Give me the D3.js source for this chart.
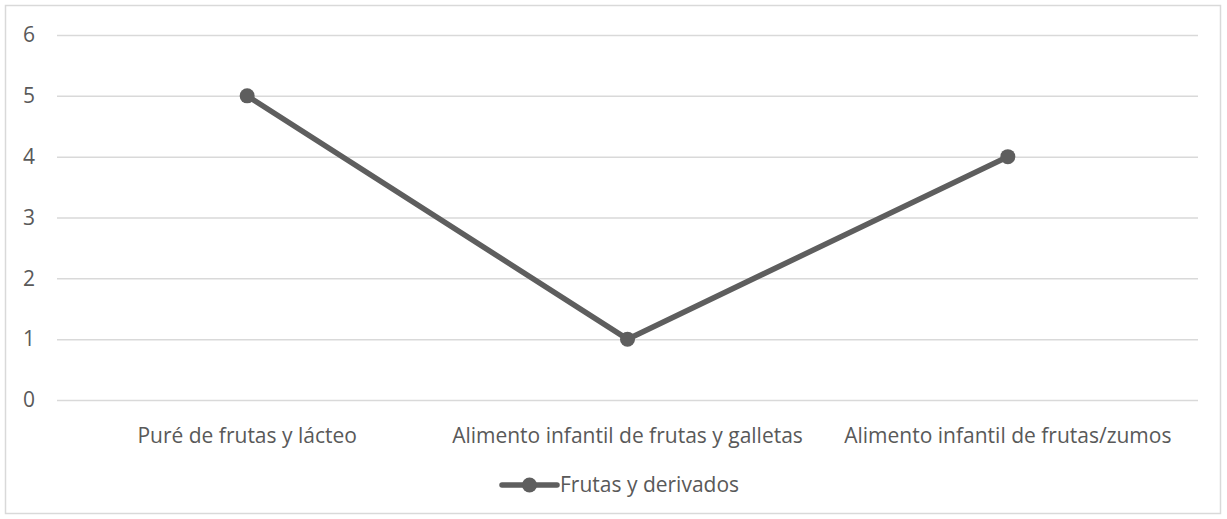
<!DOCTYPE html>
<html>
<head>
<meta charset="utf-8">
<script src="https://cdn.jsdelivr.net/npm/d3@7"></script>
<style>
  html, body { margin: 0; padding: 0; background: #fff; }
  svg { display: block; }
  svg text { font-family: "Open Sans", "Noto Sans", sans-serif; }
</style>
</head>
<body>
<svg id="chart" width="1227" height="519"></svg>
<script>
// Series data
const categories = [
  "Puré de frutas y lácteo",
  "Alimento infantil de frutas y galletas",
  "Alimento infantil de frutas/zumos"
];
const seriesName = "Frutas y derivados";
const values = [5, 1, 4];
const yTicks = [0, 1, 2, 3, 4, 5, 6];

const W = 1227, H = 519;
const plot = { left: 57, right: 1198, top: 35, bottom: 400 };
const textColor = "#595959";
const lineColor = "#5e5e5e";
const gridColor = "#d9d9d9";
const fontSize = 21;

const svg = d3.select("#chart");

// Chart frame
svg.append("rect")
  .attr("x", 5.5).attr("y", 5.5)
  .attr("width", W - 12).attr("height", H - 11)
  .attr("fill", "#fff")
  .attr("stroke", gridColor).attr("stroke-width", 1.5);

const x = d3.scaleBand().domain(categories).range([plot.left, plot.right]);
const y = d3.scaleLinear().domain([0, 6]).range([plot.bottom, plot.top]);

// Horizontal gridlines with value labels
const yAxis = d3.axisLeft(y).tickValues(yTicks).tickSize(-(plot.right - plot.left)).tickFormat(d3.format("d"));
const gy = svg.append("g").attr("transform", `translate(${plot.left},0)`).call(yAxis);
gy.attr("font-family", null);
gy.select(".domain").remove();
gy.selectAll(".tick line").attr("stroke", gridColor).attr("stroke-width", 1.5);
gy.selectAll(".tick text").attr("fill", textColor).attr("font-size", fontSize)
  .attr("text-anchor", "middle").attr("x", -28);

// Category labels
const xAxis = d3.axisBottom(x).tickSize(0).tickPadding(28);
const gx = svg.append("g").attr("transform", `translate(0,${plot.bottom})`).call(xAxis);
gx.attr("font-family", null);
gx.select(".domain").remove();
gx.selectAll(".tick text").attr("fill", textColor).attr("font-size", fontSize);

// Series line and markers
const cx = d => x(d.cat) + x.bandwidth() / 2;
const pts = categories.map((c, i) => ({ cat: c, v: values[i] }));
svg.append("path")
  .datum(pts)
  .attr("fill", "none")
  .attr("stroke", lineColor)
  .attr("stroke-width", 5.5)
  .attr("stroke-linejoin", "round")
  .attr("d", d3.line().x(cx).y(d => y(d.v)));
svg.selectAll("circle.pt").data(pts).join("circle")
  .attr("class", "pt")
  .attr("cx", cx).attr("cy", d => y(d.v)).attr("r", 7.5)
  .attr("fill", lineColor);

// Legend
const lg = svg.append("g").attr("transform", "translate(502,485)");
lg.append("line").attr("x1", 0).attr("x2", 55).attr("y1", 0).attr("y2", 0)
  .attr("stroke", lineColor).attr("stroke-width", 5.5).attr("stroke-linecap", "round");
lg.append("circle").attr("cx", 27.5).attr("cy", 0).attr("r", 7.5).attr("fill", lineColor);
lg.append("text").attr("x", 58).attr("y", 0).attr("dy", "0.35em")
  .attr("fill", textColor).attr("font-size", fontSize).text(seriesName);
</script>
</body>
</html>
